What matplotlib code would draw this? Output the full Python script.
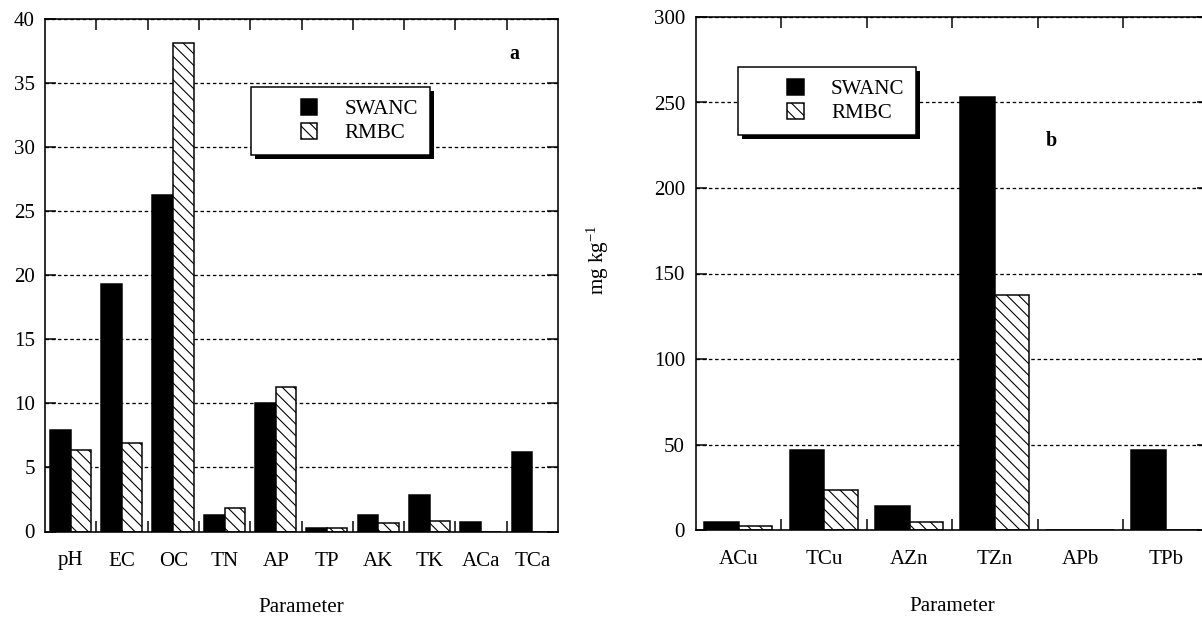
import numpy as np
import matplotlib
matplotlib.use('Agg')
import matplotlib.pyplot as plt
import matplotlib.patches as mpatches
from matplotlib.legend_handler import HandlerPatch

# data
params_a = ['pH', 'EC', 'OC', 'TN', 'AP', 'TP', 'AK', 'TK', 'ACa', 'TCa']
swanc_a = [7.9, 19.3, 26.3, 1.3, 10.0, 0.3, 1.3, 2.85, 0.75, 6.2]
rmbc_a = [6.35, 6.9, 38.1, 1.8, 11.3, 0.3, 0.7, 0.8, 0, 0]

params_b = ['ACu', 'TCu', 'AZn', 'TZn', 'APb', 'TPb']
swanc_b = [4.6, 47.0, 14.2, 253.5, 0, 47.0]
rmbc_b = [2.6, 23.5, 4.5, 137.5, 0, 0]

DPI = 140
W, H = 1202, 619


def px(v):
    # pixels -> points
    return v * 72 / DPI


plt.rcParams['font.family'] = 'Liberation Serif'
plt.rcParams['mathtext.fontset'] = 'custom'
plt.rcParams['mathtext.rm'] = 'Liberation Serif'
plt.rcParams['mathtext.default'] = 'regular'
plt.rcParams['lines.scale_dashes'] = False
plt.rcParams['hatch.linewidth'] = px(1.1)
FS = px(21)

fig = plt.figure(figsize=(W / DPI, H / DPI), dpi=DPI)
fig.patch.set_facecolor('white')


def square_right(legend, orig_handle, xdescent, ydescent, width, height, fontsize):
    return mpatches.Rectangle((-xdescent + width - height, -ydescent), height, height)


def panel(rect, names, sw, rm, ymax, ystep, letter, letter_xy, leg_anchor, ypad):
    ax = fig.add_axes(rect)
    n = len(names)
    x = np.arange(n)
    ax.bar(x + 0.095, sw, width=0.405, align='edge', color='black',
           edgecolor='black', linewidth=px(1.5), zorder=2)
    ax.bar(x + 0.50, rm, width=0.395, align='edge', color='white',
           edgecolor='black', hatch='\\\\\\\\', linewidth=px(1.5), zorder=2)
    ax.set_xlim(0, n)
    ax.set_ylim(0, ymax)
    ax.set_yticks(np.arange(0, ymax + 1, ystep))
    ax.set_xticks(np.arange(1, n))
    ax.set_xticklabels([])
    ax.set_xticks(x + 0.5, minor=True)
    ax.set_xticklabels(names, minor=True, fontsize=FS)
    ax.tick_params(axis='x', which='major', direction='in', top=True, bottom=True,
                   length=px(11), width=px(1.5))
    ax.tick_params(axis='x', which='minor', length=0, pad=px(20))
    ax.tick_params(axis='y', direction='in', left=True, right=True,
                   length=px(11), width=px(1.5), labelsize=FS, pad=ypad)
    for s in ax.spines.values():
        s.set_linewidth(px(1.6))
    ax.set_axisbelow(True)
    ax.yaxis.grid(True, color='black', linewidth=px(1.3), linestyle=(0, (px(3.5), px(2.7))))
    ax.set_xlabel('Parameter', fontsize=FS, labelpad=px(28))
    ax.text(letter_xy[0], letter_xy[1], letter, fontsize=px(20), fontweight='bold',
            ha='center', va='center')
    handles = [mpatches.Patch(facecolor='black', edgecolor='black', linewidth=px(1.5)),
               mpatches.Patch(facecolor='white', edgecolor='black', hatch='\\\\\\\\',
                              linewidth=px(1.5))]
    leg = ax.legend(handles, ['SWANC', 'RMBC'], loc='upper left', bbox_to_anchor=leg_anchor,
                    borderaxespad=0, fontsize=FS, fancybox=False, framealpha=1,
                    edgecolor='black', handlelength=2.6, handleheight=0.83,
                    handletextpad=1.3, labelspacing=0.15, borderpad=0.55,
                    handler_map={mpatches.Patch: HandlerPatch(patch_func=square_right)})
    leg.get_frame().set_linewidth(px(1.5))
    leg.set_zorder(5)
    return ax, leg


ax1, leg1 = panel([45 / W, (H - 531.5) / H, 513 / W, 512.5 / H], params_a, swanc_a, rmbc_a,
                  40, 5, 'a', (9.14, 37.3), ((251 - 45) / 513, (531.5 - 87.3) / 512.5), px(10))
ax2, leg2 = panel([696 / W, (H - 530) / H, 512.4 / W, 513 / H], params_b, swanc_b, rmbc_b,
                  300, 50, 'b', (4.16, 227.7), ((737.5 - 696) / 512.4, (530 - 67.3) / 513), px(11))

fig.text(598 / W, 1 - 260 / H, r'mg kg$^{-1}$', rotation=90, ha='center', va='center',
         fontsize=FS)

# black drop shadow behind the legend boxes
fig.canvas.draw()
inv = fig.transFigure.inverted()
for ax, leg in [(ax1, leg1), (ax2, leg2)]:
    bb = leg.get_frame().get_window_extent()
    (x0, y0), (x1, y1) = inv.transform([[bb.x0 + 4, bb.y0 - 4], [bb.x1 + 4, bb.y1 - 4]])
    ax.add_patch(mpatches.Rectangle((x0, y0), x1 - x0, y1 - y0, transform=fig.transFigure,
                                    facecolor='black', edgecolor='none', zorder=4.5,
                                    clip_on=False))

fig.savefig('out.png', dpi=DPI)
